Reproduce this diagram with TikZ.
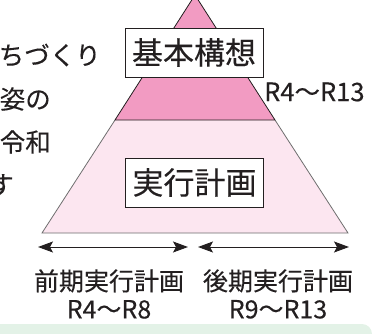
\documentclass[tikz,border=0pt]{standalone}
\usepackage{fontspec}
\setmainfont{Noto Sans CJK JP}[FakeBold=0.25]
\usetikzlibrary{arrows.meta}
\definecolor{darkpink}{HTML}{F29BC2}
\definecolor{lightpink}{HTML}{FCE6F0}
\definecolor{lightgreen}{HTML}{E3F2E7}
\definecolor{txt}{HTML}{231F20}
\definecolor{edgegray}{HTML}{6E6E6E}
\tikzset{
  labelbox/.style={draw=txt, line width=0.9pt, fill=white, minimum width=138pt, minimum height=49pt, inner sep=0pt, text=txt, font=\fontsize{31}{33}\selectfont},
  sidetext/.style={inner sep=0pt, text=txt, font=\fontsize{25.5}{27}\selectfont},
  period/.style={inner sep=0pt, text=txt, align=center, font=\fontsize{25}{28}\selectfont},
  span/.style={line width=1pt, draw=txt, {Stealth[length=15pt,width=11pt,inset=3pt]}-{Stealth[length=15pt,width=11pt,inset=3pt]}}
}
\begin{document}
\begin{tikzpicture}[x=1pt,y=-1pt]
\useasboundingbox (0,0) rectangle (373,333);
% green panel at bottom
\fill[lightgreen, rounded corners=10pt] (-20,324) rectangle (372,370);
% pyramid lower part
\fill[lightpink] (115,120) -- (275,120) -- (348,233) -- (42,233) -- cycle;
\draw[edgegray, line width=0.8pt] (115,120) -- (42,233) -- (348,233) -- (275,120);
% pyramid top part
\fill[darkpink] (195,-5) -- (275,120) -- (115,120) -- cycle;
\draw[txt, line width=0.8pt] (115,120) -- (195,-5) -- (275,120) -- cycle;
% boxes
\node[labelbox] (kihon) at (194,52.5) {基本構想};
\node[labelbox] (jikko) at (194.5,182.5) {実行計画};
\node[sidetext, anchor=west] (kihonR) at (264,92) {R4〜R13};
% side text (cut off)
\node[sidetext, anchor=east] (l1) at (101,55) {ちづくり};
\node[sidetext, anchor=east] (l2) at (51,99) {姿の};
\node[sidetext, anchor=east] (l3) at (51,142) {令和};
\node[sidetext, anchor=east] (l4) at (14,185) {す};
% period arrows
\coordinate (a1) at (38,247);
\coordinate (a2) at (188,247);
\coordinate (b1) at (198,247);
\coordinate (b2) at (349,247);
\draw[span] (a1) -- (a2);
\draw[span] (b1) -- (b2);
\node[period] (zenki) at (109,294) {前期実行計画\\R4〜R8};
\node[period] (koki) at (278,294) {後期実行計画\\R9〜R13};
\end{tikzpicture}
\end{document}
